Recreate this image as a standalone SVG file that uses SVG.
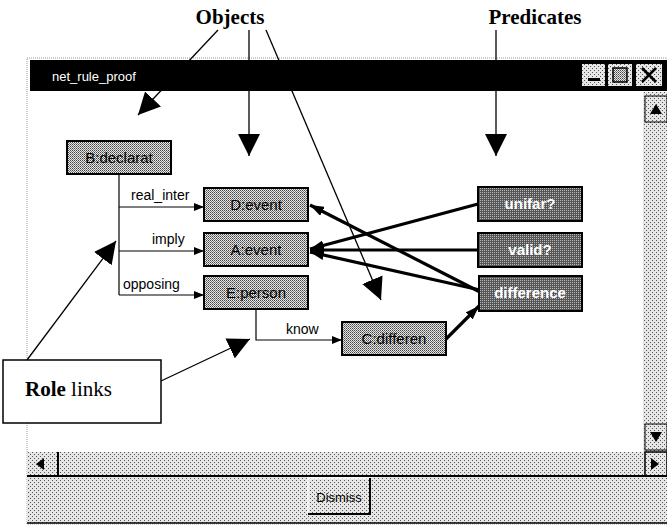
<svg xmlns="http://www.w3.org/2000/svg" width="667" height="530" viewBox="0 0 667 530">
  <defs>
    <pattern id="dLight" width="4" height="4" patternUnits="userSpaceOnUse">
      <rect width="4" height="4" fill="#e6e6e6"/>
      <rect x="0" y="0" width="1" height="1" fill="#555"/>
      <rect x="2" y="2" width="1" height="1" fill="#555"/>
    </pattern>
    <pattern id="dMid" width="2" height="2" patternUnits="userSpaceOnUse">
      <rect width="2" height="2" fill="#e8e8e8"/>
      <rect x="0" y="0" width="1" height="1" fill="#444"/>
      <rect x="1" y="1" width="1" height="1" fill="#777"/>
    </pattern>
    <pattern id="dDark" width="2" height="2" patternUnits="userSpaceOnUse">
      <rect width="2" height="2" fill="#555"/>
      <rect x="0" y="0" width="1" height="1" fill="#bbb"/>
    </pattern>
    <marker id="bigHead" viewBox="0 0 22 22" refX="22" refY="11" markerWidth="22" markerHeight="22" markerUnits="userSpaceOnUse" orient="auto">
      <path d="M0,0 L22,11 L0,22 z" fill="#000"/>
    </marker>
    <marker id="smallHead" viewBox="0 0 10 8" refX="10" refY="4" markerWidth="10" markerHeight="8" markerUnits="userSpaceOnUse" orient="auto">
      <path d="M0,0 L10,4 L0,8 z" fill="#000"/>
    </marker>
    <marker id="thickHead" viewBox="0 0 14 10" refX="14" refY="5" markerWidth="14" markerHeight="10" markerUnits="userSpaceOnUse" orient="auto">
      <path d="M0,0 L14,5 L0,10 z" fill="#000"/>
    </marker>
    <style>
      .obj rect { fill: url(#dMid); stroke: #000; stroke-width: 2; }
      .obj text { font-family: "Liberation Sans", Arial, sans-serif; font-size: 15px; fill: #000; text-anchor: middle; }
      .pred rect { fill: url(#dDark); stroke: #000; stroke-width: 2; }
      .pred text { font-family: "Liberation Sans", Arial, sans-serif; font-size: 15px; font-weight: bold; fill: #fff; text-anchor: middle; }
      .role { fill: none; stroke: #000; stroke-width: 1.2; }
      .arg { fill: none; stroke: #000; stroke-width: 3.2; }
      .callout { fill: none; stroke: #000; stroke-width: 1.3; }
      .lbl { font-family: "Liberation Sans", Arial, sans-serif; font-size: 14px; fill: #000; }
      .head { font-family: "Liberation Serif", "Times New Roman", serif; font-size: 21px; font-weight: bold; fill: #000; text-anchor: middle; }
      .ui { font-family: "Liberation Sans", Arial, sans-serif; font-size: 13px; }
    </style>
  </defs>

  <rect width="667" height="530" fill="#fff"/>

  <!-- window frame -->
  <g id="window">
    <rect x="27" y="58" width="640" height="466" fill="#fff" stroke="#999" stroke-dasharray="1 1"/>
    <rect x="30" y="60" width="637" height="31" fill="#000"/>
    <text x="52" y="81" class="ui" fill="#fff">net_rule_proof</text>
    <rect x="582" y="64" width="23" height="22" fill="url(#dLight)"/>
    <rect x="588" y="78" width="12" height="3" fill="#000"/>
    <rect x="608" y="64" width="24" height="22" fill="url(#dLight)"/>
    <rect x="613" y="68" width="14" height="14" fill="url(#dMid)" stroke="#000" stroke-width="1.5"/>
    <rect x="636" y="64" width="26" height="22" fill="url(#dLight)"/>
    <path d="M642,68 L656,82 M656,68 L642,82" stroke="#000" stroke-width="2.5"/>
    <!-- vertical scrollbar -->
    <rect x="643" y="92" width="24" height="360" fill="url(#dLight)"/>
    <rect x="645" y="96" width="22" height="26" fill="url(#dLight)" stroke="#000" stroke-width="1"/>
    <path d="M650,114 L656,104 L662,114 z" fill="#000"/>
    <rect x="645" y="424" width="22" height="26" fill="url(#dLight)" stroke="#000" stroke-width="1"/>
    <path d="M650,432 L656,442 L662,432 z" fill="#000"/>
    <!-- horizontal scrollbar -->
    <rect x="27" y="452" width="640" height="24" fill="url(#dLight)"/>
    <line x1="58" y1="452" x2="58" y2="476" stroke="#000" stroke-width="2"/>
    <path d="M36,464 L44,458 L44,470 z" fill="#000"/>
    <rect x="645" y="452" width="22" height="24" fill="url(#dLight)" stroke="#000" stroke-width="1.5"/>
    <path d="M659,464 L651,458 L651,470 z" fill="#000"/>
    <line x1="27" y1="476" x2="667" y2="476" stroke="#000" stroke-width="2"/>
    <!-- button area -->
    <rect x="27" y="477" width="640" height="46" fill="url(#dLight)"/>
    <line x1="27" y1="523" x2="667" y2="523" stroke="#000" stroke-width="1.5"/>
  </g>

  <g id="dismiss">
    <rect x="308" y="478" width="62" height="36" fill="url(#dLight)"/>
    <path d="M308,514 L308,478 L370,478" fill="none" stroke="#fff" stroke-width="1.5"/>
    <path d="M308,514 L370,514 L370,478" fill="none" stroke="#000" stroke-width="2"/>
    <text x="339" y="502" class="ui" text-anchor="middle" fill="#000">Dismiss</text>
  </g>

  <!-- connectors -->
  <g id="connectors">
    <!-- role links from B:declarat -->
    <path class="role" d="M119,174 L119,295"/>
    <path class="role" d="M119,207 L204,207" marker-end="url(#smallHead)"/>
    <path class="role" d="M119,251 L204,251" marker-end="url(#smallHead)"/>
    <path class="role" d="M119,295 L204,295" marker-end="url(#smallHead)"/>
    <!-- E:person to C:differen -->
    <path class="role" d="M256,307 L256,340 L342,340" marker-end="url(#smallHead)"/>
    <!-- predicate arguments -->
    <path class="arg" d="M478,204 L310,249" marker-end="url(#thickHead)"/>
    <path class="arg" d="M478,250 L310,250" marker-end="url(#thickHead)"/>
    <path class="arg" d="M480,290 L310,252" marker-end="url(#thickHead)"/>
    <path class="arg" d="M480,292 L310,205" marker-end="url(#thickHead)"/>
    <path class="arg" d="M446,339 L479,306" marker-end="url(#thickHead)"/>
  </g>

  <!-- connector labels -->
  <g id="labels">
    <text x="131" y="200" class="lbl">real_inter</text>
    <text x="152" y="244" class="lbl">imply</text>
    <text x="123" y="289" class="lbl">opposing</text>
    <text x="286" y="334" class="lbl">know</text>
  </g>

  <!-- object nodes -->
  <g id="B" class="obj"><rect x="67" y="141" width="104" height="33"/><text x="119" y="163">B:declarat</text></g>
  <g id="D" class="obj"><rect x="204" y="188" width="104" height="33"/><text x="256" y="210">D:event</text></g>
  <g id="A" class="obj"><rect x="204" y="233" width="104" height="33"/><text x="256" y="255">A:event</text></g>
  <g id="E" class="obj"><rect x="204" y="276" width="104" height="33"/><text x="256" y="298">E:person</text></g>
  <g id="C" class="obj"><rect x="342" y="322" width="104" height="33"/><text x="394" y="344">C:differen</text></g>

  <!-- predicate nodes -->
  <g id="unfair" class="pred"><rect x="478" y="187" width="104" height="34"/><text x="530" y="209">unifar?</text></g>
  <g id="valid" class="pred"><rect x="478" y="233" width="104" height="34"/><text x="530" y="255">valid?</text></g>
  <g id="difference" class="pred"><rect x="479" y="276" width="103" height="35"/><text x="530" y="298">difference</text></g>

  <!-- annotations -->
  <g id="ann-objects">
    <text x="230" y="24" class="head">Objects</text>
    <path class="callout" d="M218,30 L138,115" marker-end="url(#bigHead)"/>
    <path class="callout" d="M249,30 L249,156" marker-end="url(#bigHead)"/>
    <path class="callout" d="M266,30 L381,300" marker-end="url(#bigHead)"/>
  </g>
  <g id="ann-predicates">
    <text x="535" y="24" class="head">Predicates</text>
    <path class="callout" d="M496,30 L496,156" marker-end="url(#bigHead)"/>
  </g>
  <g id="ann-role">
    <rect x="3" y="360" width="158" height="63" fill="#fff" stroke="#000" stroke-width="1.5"/>
    <text x="25" y="396" font-family="Liberation Serif, Times New Roman, serif" font-size="21px" fill="#000"><tspan font-weight="bold">Role</tspan> links</text>
    <path class="callout" d="M27,360 L116,241" marker-end="url(#bigHead)"/>
    <path class="callout" d="M161,381 L250,339" marker-end="url(#bigHead)"/>
  </g>
</svg>
